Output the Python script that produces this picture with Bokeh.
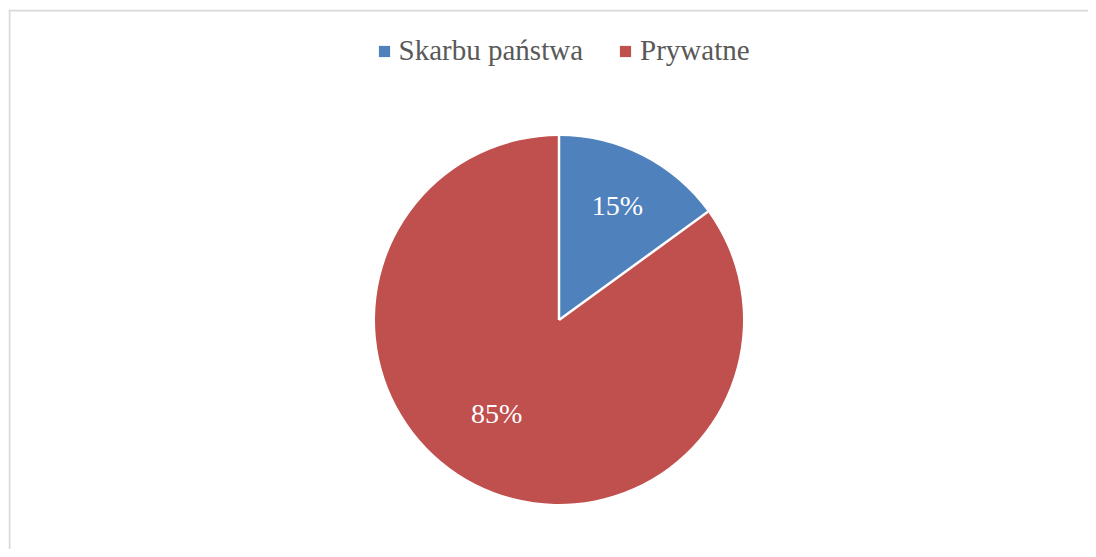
import math
from bokeh.plotting import figure
from bokeh.models import ColumnDataSource, Range1d, Legend, LegendItem, Span
from bokeh.core.properties import value
from bokeh.embed import file_html
from bokeh.resources import INLINE

# ---- data ----
categories = ["Skarbu państwa", "Prywatne"]
shares = [15, 85]
colors = ["#4F81BD", "#C0504D"]
pct_labels = ["15%", "85%"]

# ---- layout / style ----
W, H = 1088, 549
LEFT, TOP = 8, 9
FW, FH = W - LEFT, H - TOP
cx, cy, R = 558.5, H - 319.5, 184
label_r = [0.70, 0.61]
label_shift_deg = [0.0, 6.8]
FONT = "Liberation Serif"

total = float(sum(shares))
starts, ends, lx, ly = [], [], [], []
cum = 0.0
for i, s in enumerate(shares):
    a0 = math.pi / 2 - 2 * math.pi * cum / total
    cum += s
    a1 = math.pi / 2 - 2 * math.pi * cum / total
    starts.append(a0)
    ends.append(a1)
    mid = (a0 + a1) / 2 - math.radians(label_shift_deg[i])
    lx.append(cx + label_r[i] * R * math.cos(mid))
    ly.append(cy + label_r[i] * R * math.sin(mid))

src = ColumnDataSource(dict(
    label=categories, start=starts, end=ends, color=colors,
    lx=lx, ly=ly, txt=pct_labels,
))

p = figure(width=W, height=H, output_backend="svg", toolbar_location=None,
           x_range=Range1d(LEFT, W), y_range=Range1d(0, FH),
           min_border=0, min_border_left=LEFT, min_border_top=TOP,
           x_axis_location=None, y_axis_location=None)
p.grid.visible = False
p.outline_line_color = None
p.background_fill_color = "white"
p.border_fill_color = "white"

# chart-area border (only left and top edges fall inside the window)
p.add_layout(Span(location=LEFT + 1, dimension="height", line_color="#d9d9d9", line_width=2))
p.add_layout(Span(location=FH - 1, dimension="width", line_color="#d9d9d9", line_width=2))

w = p.wedge(x=cx, y=cy, radius=R, start_angle="start", end_angle="end",
            direction="clock", fill_color="color", line_color=None, source=src)

# white separators along slice boundaries
p.ray(x=cx, y=cy, length=R, angle=starts, line_color="white", line_width=2.5)

p.text(x="lx", y="ly", text="txt", source=src, text_color="white",
       text_font=value(FONT), text_font_size="28px",
       text_align="center", text_baseline="middle")

items = [LegendItem(label=categories[i], renderers=[w], index=i) for i in range(len(categories))]
legend = Legend(items=items, location=(368.6, 482), orientation="horizontal",
                label_text_font=FONT, label_text_font_size="29px",
                label_text_color="#595959", glyph_width=14, glyph_height=14,
                label_standoff=8, spacing=35, border_line_color=None,
                background_fill_alpha=0, margin=0, padding=10)
p.add_layout(legend, "center")

open("out.html", "w").write(file_html(p, INLINE))
